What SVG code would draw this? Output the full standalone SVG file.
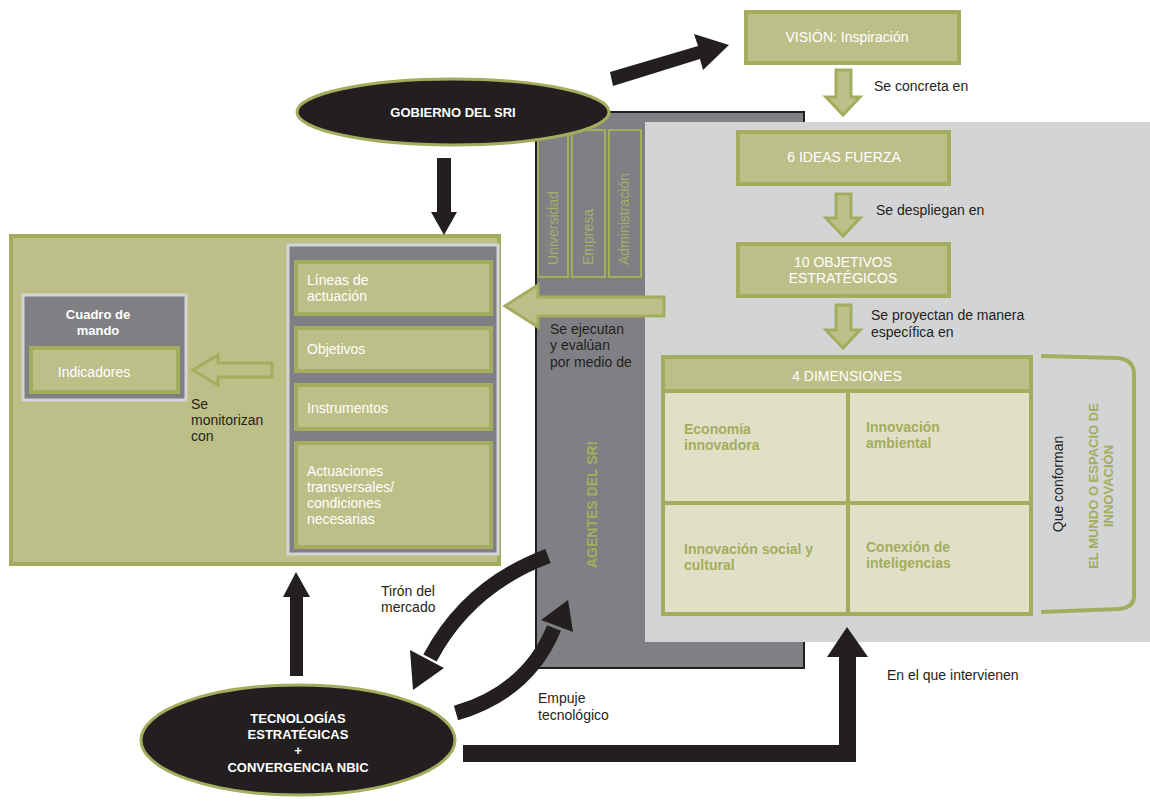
<svg xmlns="http://www.w3.org/2000/svg" width="1150" height="801" viewBox="0 0 1150 801">
<style>
.ol{fill:#bdbf88;stroke:#a4ad5e;stroke-width:4}
.olc{fill:#e0e0c6;stroke:#a4ad5e;stroke-width:4}
.t{font-family:"Liberation Sans",Arial,sans-serif;font-size:14px}
.s{font-size:13px}
.w{fill:#ffffff}
.k{fill:#231f20}
.b{font-weight:bold}
.g{fill:#a4ad5e}
.blk{fill:#231f20}
.holl{fill:#bdbf88;stroke:#a4ad5e;stroke-width:3}
</style>
<rect width="1150" height="801" fill="#ffffff"/>

<g id="agentes">
<rect x="536" y="112" width="268" height="556" fill="#808084" stroke="#231f20" stroke-width="2"/>
<text class="t b" font-size="17" fill="#a4ad5e" transform="translate(597,568) rotate(-90)">AGENTES DEL SRI</text>
</g>
<g id="panel">
<rect x="645" y="122" width="505" height="520" fill="#d3d4d6"/>
</g>
<g id="columnas">
<rect x="538" y="130" width="30" height="147" fill="#808084" stroke="#a4ad5e" stroke-width="2"/>
<rect x="572" y="130" width="33" height="147" fill="#808084" stroke="#a4ad5e" stroke-width="2"/>
<rect x="609" y="130" width="32" height="147" fill="#808084" stroke="#a4ad5e" stroke-width="2"/>
<text class="t" fill="#a8ad6c" transform="translate(558,265) rotate(-90)">Universidad</text>
<text class="t" fill="#a8ad6c" transform="translate(593,265) rotate(-90)">Empresa</text>
<text class="t" fill="#a8ad6c" transform="translate(629,265) rotate(-90)">Administración</text>
</g>

<g id="gobierno">
<ellipse cx="453" cy="112" rx="156" ry="33" fill="#231f20" stroke="#a4ad5e" stroke-width="3"/>
<text class="t s w b" x="453" y="117" text-anchor="middle">GOBIERNO DEL SRI</text>
</g>

<g id="vision">
<rect x="746" y="12" width="213" height="51" class="ol"/>
<text class="t w" x="847" y="42" text-anchor="middle">VISIÓN: Inspiración</text>
</g>
<g id="ideas">
<rect x="738" y="132" width="211" height="52" class="ol"/>
<text class="t w" x="844" y="162" text-anchor="middle">6 IDEAS FUERZA</text>
</g>
<g id="objetivos">
<rect x="738" y="244" width="211" height="52" class="ol"/>
<text class="t w" x="843" y="267" text-anchor="middle">10 OBJETIVOS</text>
<text class="t w" x="843" y="283" text-anchor="middle">ESTRATÉGICOS</text>
</g>

<g id="dimensiones">
<rect x="663" y="357" width="368" height="257" class="olc"/>
<rect x="663" y="357" width="368" height="34" class="ol"/>
<line x1="848" y1="391" x2="848" y2="614" stroke="#a4ad5e" stroke-width="4"/>
<line x1="663" y1="503" x2="1031" y2="503" stroke="#a4ad5e" stroke-width="4"/>
<text class="t w" x="847" y="381" text-anchor="middle">4 DIMENSIONES</text>
<text class="t b g" x="684" y="434">Economía</text>
<text class="t b g" x="684" y="450">innovadora</text>
<text class="t b g" x="866" y="432">Innovación</text>
<text class="t b g" x="866" y="448">ambiental</text>
<text class="t b g" x="684" y="554">Innovación social y</text>
<text class="t b g" x="684" y="570">cultural</text>
<text class="t b g" x="866" y="552">Conexión de</text>
<text class="t b g" x="866" y="568">inteligencias</text>
</g>

<g id="mundo">
<path d="M1041,356 L1118,358 Q1134,360 1134,374 L1134,596 Q1134,608 1118,609 L1041,612" fill="none" stroke="#a4ad5e" stroke-width="4"/>
<text class="t k" transform="translate(1063,484) rotate(-90)" text-anchor="middle">Que conforman</text>
<text class="t s b g" transform="translate(1098,486) rotate(-90)" text-anchor="middle">EL MUNDO O ESPACIO DE</text>
<text class="t s b g" transform="translate(1113,486) rotate(-90)" text-anchor="middle">INNOVACIÓN</text>
</g>

<g id="plan">
<rect x="11" y="236" width="488" height="328" class="ol" stroke-width="3"/>
<rect x="288" y="245" width="210" height="309" fill="#808084" stroke="#d3d4d6" stroke-width="3"/>
<rect x="296" y="262" width="195" height="52" class="ol"/>
<rect x="296" y="328" width="195" height="43" class="ol"/>
<rect x="296" y="385" width="195" height="44" class="ol"/>
<rect x="296" y="443" width="195" height="104" class="ol"/>
<text class="t w" x="307" y="285">Líneas de</text>
<text class="t w" x="307" y="301">actuación</text>
<text class="t w" x="307" y="354">Objetivos</text>
<text class="t w" x="307" y="413">Instrumentos</text>
<text class="t w" x="307" y="476">Actuaciones</text>
<text class="t w" x="307" y="492">transversales/</text>
<text class="t w" x="307" y="508">condiciones</text>
<text class="t w" x="307" y="524">necesarias</text>
</g>

<g id="cuadro">
<rect x="23" y="295" width="163" height="105" fill="#808084" stroke="#d3d4d6" stroke-width="3"/>
<rect x="31" y="348" width="147" height="44" class="ol"/>
<text class="t s w b" x="98" y="319" text-anchor="middle">Cuadro de</text>
<text class="t s w b" x="98" y="335" text-anchor="middle">mando</text>
<text class="t w" x="94" y="377" text-anchor="middle">Indicadores</text>
</g>

<g id="tecnologias">
<ellipse cx="298" cy="740" rx="157" ry="55" fill="#231f20" stroke="#a4ad5e" stroke-width="3"/>
<text class="t s w b" x="298" y="723" text-anchor="middle">TECNOLOGÍAS</text>
<text class="t s w b" x="298" y="739" text-anchor="middle">ESTRATÉGICAS</text>
<text class="t s w b" x="298" y="755" text-anchor="middle">+</text>
<text class="t s w b" x="298" y="772" text-anchor="middle">CONVERGENCIA NBIC</text>
</g>

<g id="connectors">
<polygon class="holl" points="836,70 851,70 851,97 860,97 843,115 826,97 836,97"/>
<polygon class="holl" points="836,194 851,194 851,218 860,218 843,236 826,218 836,218"/>
<polygon class="holl" points="836,305 851,305 851,330 860,330 843,348 826,330 836,330"/>
<polygon class="holl" points="664,297 664,316 538,316 538,327 505,306 538,285 538,297"/>
<polygon class="holl" points="272,363 272,377 218,377 218,385 193,370 218,355 218,363"/>
<polygon class="blk" points="437,158 451,158 451,212 457,212 444,235 431,212 437,212"/>
<polygon class="blk" points="610,72 698,46 694,34 729,45 703,70 700,59 613,86"/>
<polygon class="blk" points="290,676 303,676 303,597 310,597 296,572 283,597 290,597"/>
<polygon class="blk" points="463,745 839,745 839,657 827,657 847,627 868,657 856,657 856,762 463,762"/>
<path d="M548,556 Q468,586 430,658" fill="none" stroke="#231f20" stroke-width="15"/>
<polygon class="blk" points="444,668 413,690 410,650"/>
<path d="M456,713 Q528,692 554,628" fill="none" stroke="#231f20" stroke-width="15"/>
<polygon class="blk" points="541,620 568,600 573,632"/>
<text class="t k" x="874" y="91">Se concreta en</text>
<text class="t k" x="876" y="215">Se despliegan en</text>
<text class="t k" x="871" y="320">Se proyectan de manera</text>
<text class="t k" x="871" y="337">específica en</text>
<text class="t k" x="550" y="334">Se ejecutan</text>
<text class="t k" x="550" y="350">y evalúan</text>
<text class="t k" x="550" y="367">por medio de</text>
<text class="t k" x="191" y="409">Se</text>
<text class="t k" x="191" y="425">monitorizan</text>
<text class="t k" x="191" y="441">con</text>
<text class="t k" x="381" y="596">Tirón del</text>
<text class="t k" x="381" y="612">mercado</text>
<text class="t k" x="538" y="703">Empuje</text>
<text class="t k" x="538" y="720">tecnológico</text>
<text class="t k" x="887" y="680">En el que intervienen</text>
</g>
</svg>
